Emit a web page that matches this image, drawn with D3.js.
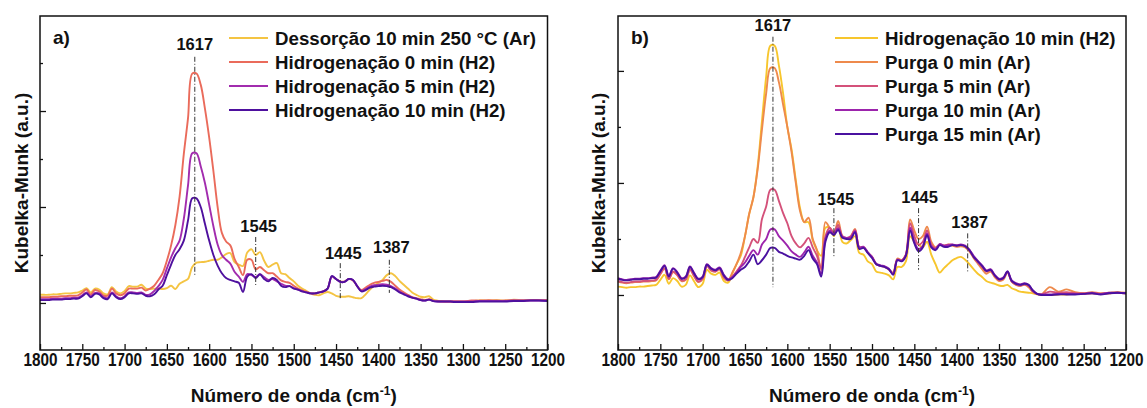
<!DOCTYPE html>
<html>
<head>
<meta charset="utf-8">
<script src="https://cdn.jsdelivr.net/npm/d3@7"></script>
<style>
body{margin:0;background:#fff}
svg text{font-family:"Liberation Sans",Arial,sans-serif;font-weight:bold;fill:#111}
</style>
</head>
<body>
<script>
// x grid (cm-1) shared by all spectra
var wavenumbers = [
 1800,1795,1790,1785,1780,1775,1770,1765,1760,1755,
 1750,1745,1740,1735,1730,1725,1720,1715,1710,1705,
 1700,1695,1690,1685,1680,1675,1670,1665,1660,1655,
 1650,1645,1640,1635,1630,1625,1620,1615,1610,1605,
 1600,1595,1590,1585,1580,1575,1570,1565,1560,1555,
 1550,1545,1540,1535,1530,1525,1520,1515,1510,1505,
 1500,1495,1490,1485,1480,1475,1470,1465,1460,1455,
 1450,1445,1440,1435,1430,1425,1420,1415,1410,1405,
 1400,1395,1390,1385,1380,1375,1370,1365,1360,1355,
 1350,1345,1340,1335,1330,1325,1320,1315,1310,1305,
 1300,1290,1280,1270,1260,1250,1240,1230,1220,1210,1200];

var xTickLabels = [1800,1750,1700,1650,1600,1550,1500,1450,1400,1350,1300,1250,1200];
var xMinorTicks = [1775,1725,1675,1625,1575,1525,1475,1425,1375,1325,1275,1225];

// panel a
var labelsA = ["Dessorção 10 min 250 °C (Ar)","Hidrogenação 0 min (H2)","Hidrogenação 5 min (H2)","Hidrogenação 10 min (H2)"];
var desorb250 = [
 0.17,0.17,0.17,0.18,0.18,0.19,0.20,0.20,0.21,0.22,
 0.26,0.31,0.22,0.30,0.28,0.20,0.18,0.33,0.24,0.20,
 0.25,0.35,0.34,0.34,0.38,0.30,0.29,0.30,0.30,0.29,
 0.31,0.36,0.29,0.40,0.45,0.50,0.75,0.84,0.85,0.86,
 0.88,0.90,0.90,0.95,1.02,1.04,0.85,0.80,0.77,1.05,
 1.12,1.00,1.06,0.88,0.75,0.80,0.83,0.62,0.60,0.52,
 0.45,0.36,0.30,0.25,0.20,0.17,0.16,0.20,0.23,0.20,
 0.15,0.13,0.13,0.14,0.12,0.10,0.10,0.18,0.28,0.36,
 0.42,0.48,0.58,0.62,0.56,0.46,0.38,0.30,0.22,0.17,
 0.13,0.12,0.14,0.07,0.05,0.04,0.03,0.03,0.03,0.03,
 0.03,0.04,0.05,0.05,0.06,0.05,0.07,0.06,0.06,0.06,0.06];
var hydro0 = [
 0.12,0.12,0.12,0.13,0.13,0.14,0.14,0.15,0.15,0.16,
 0.22,0.28,0.18,0.27,0.24,0.16,0.15,0.30,0.20,0.16,
 0.20,0.30,0.30,0.30,0.32,0.26,0.30,0.36,0.48,0.62,
 0.88,1.20,1.62,2.21,3.10,3.85,4.78,4.78,4.55,4.05,
 3.45,2.75,2.00,1.46,1.28,1.20,0.92,0.75,0.58,0.90,
 0.90,0.70,0.75,0.68,0.62,0.62,0.55,0.47,0.44,0.42,
 0.36,0.30,0.26,0.23,0.20,0.20,0.22,0.24,0.30,0.55,
 0.50,0.45,0.45,0.50,0.47,0.35,0.27,0.32,0.38,0.42,
 0.44,0.46,0.48,0.44,0.36,0.28,0.22,0.17,0.12,0.10,
 0.08,0.06,0.08,0.05,0.04,0.03,0.03,0.03,0.03,0.03,
 0.03,0.05,0.05,0.06,0.05,0.05,0.06,0.05,0.06,0.06,0.06];
var hydro5 = [
 0.08,0.08,0.08,0.09,0.09,0.09,0.10,0.10,0.11,0.11,
 0.16,0.22,0.14,0.21,0.20,0.12,0.10,0.22,0.14,0.10,
 0.14,0.22,0.22,0.21,0.22,0.17,0.18,0.25,0.35,0.48,
 0.72,0.95,1.14,1.30,1.75,2.45,3.12,3.12,2.85,2.50,
 2.05,1.60,1.22,1.00,0.90,0.82,0.65,0.55,0.44,0.60,
 0.58,0.54,0.60,0.54,0.48,0.50,0.45,0.40,0.36,0.35,
 0.31,0.28,0.24,0.22,0.20,0.20,0.22,0.24,0.30,0.55,
 0.50,0.44,0.44,0.50,0.48,0.35,0.25,0.29,0.34,0.37,
 0.38,0.39,0.38,0.35,0.30,0.24,0.19,0.15,0.11,0.09,
 0.06,0.05,0.07,0.04,0.03,0.03,0.03,0.03,0.03,0.03,
 0.03,0.03,0.04,0.04,0.04,0.04,0.05,0.05,0.05,0.05,0.05];
var hydro10 = [
 0.06,0.06,0.06,0.07,0.07,0.07,0.08,0.08,0.09,0.09,
 0.14,0.20,0.12,0.19,0.18,0.10,0.08,0.20,0.12,0.08,
 0.12,0.20,0.20,0.19,0.20,0.15,0.14,0.18,0.28,0.36,
 0.58,0.80,1.00,1.12,1.30,1.72,2.18,2.18,2.00,1.65,
 1.30,1.00,0.78,0.62,0.52,0.48,0.45,0.42,0.23,0.55,
 0.60,0.52,0.60,0.50,0.45,0.52,0.48,0.36,0.33,0.35,
 0.30,0.28,0.24,0.22,0.20,0.20,0.22,0.24,0.30,0.56,
 0.50,0.44,0.44,0.50,0.48,0.35,0.24,0.27,0.32,0.34,
 0.35,0.36,0.35,0.33,0.28,0.22,0.18,0.14,0.11,0.09,
 0.06,0.05,0.07,0.04,0.03,0.03,0.03,0.03,0.02,0.02,
 0.02,0.02,0.03,0.03,0.03,0.03,0.04,0.04,0.05,0.05,0.04];

// panel b
var labelsB = ["Hidrogenação 10 min (H2)","Purga 0 min (Ar)","Purga 5 min (Ar)","Purga 10 min (Ar)","Purga 15 min (Ar)"];
var hydro10b = [
 0.15,0.14,0.13,0.14,0.14,0.15,0.15,0.16,0.17,0.18,
 0.27,0.36,0.20,0.30,0.25,0.15,0.18,0.35,0.24,0.14,
 0.20,0.45,0.38,0.36,0.40,0.25,0.22,0.38,0.55,0.70,
 1.05,1.45,1.75,2.30,3.10,3.90,4.45,4.45,4.10,3.60,
 3.00,2.60,2.05,1.55,1.30,1.30,0.98,0.80,0.70,1.20,
 1.20,1.05,1.25,0.95,0.92,0.98,1.05,0.75,0.72,0.60,
 0.55,0.42,0.40,0.38,0.35,0.28,0.50,0.50,0.60,1.05,
 0.95,0.90,0.85,0.95,0.72,0.55,0.40,0.48,0.55,0.62,
 0.66,0.68,0.63,0.55,0.46,0.38,0.32,0.25,0.22,0.20,
 0.17,0.16,0.18,0.12,0.09,0.06,0.05,0.04,0.03,0.01,
 0.00,0.00,0.01,0.01,0.02,0.02,0.03,0.02,0.03,0.04,0.03];
var purge0 = [
 0.24,0.22,0.21,0.22,0.23,0.23,0.24,0.24,0.25,0.26,
 0.37,0.47,0.28,0.41,0.35,0.25,0.27,0.45,0.33,0.23,
 0.28,0.52,0.44,0.42,0.46,0.30,0.26,0.40,0.55,0.75,
 1.05,1.45,1.75,2.25,2.95,3.60,4.05,4.05,3.80,3.40,
 3.00,2.55,2.00,1.50,1.30,1.38,1.00,0.80,0.45,1.30,
 1.20,1.10,1.32,1.05,1.00,1.05,1.18,0.85,0.85,0.75,
 0.68,0.55,0.52,0.50,0.45,0.40,0.65,0.62,0.72,1.35,
 1.15,1.00,1.05,1.22,0.95,0.85,0.90,0.88,0.90,0.88,
 0.86,0.87,0.85,0.78,0.66,0.56,0.46,0.38,0.42,0.32,
 0.25,0.27,0.40,0.24,0.18,0.16,0.18,0.14,0.05,0.02,
 0.01,0.14,0.06,0.10,0.05,0.03,0.05,0.03,0.04,0.05,0.04];
var purge5 = [
 0.25,0.23,0.22,0.23,0.24,0.24,0.25,0.25,0.26,0.27,
 0.38,0.48,0.29,0.42,0.36,0.26,0.28,0.46,0.34,0.24,
 0.29,0.52,0.44,0.42,0.46,0.32,0.26,0.32,0.42,0.52,
 0.68,0.85,1.00,0.93,1.35,1.58,1.88,1.88,1.68,1.46,
 1.28,1.05,0.92,0.85,0.92,1.02,0.85,0.70,0.48,1.05,
 1.20,1.12,1.25,1.05,1.02,1.05,1.16,0.85,0.86,0.76,
 0.68,0.55,0.52,0.50,0.46,0.38,0.63,0.62,0.72,1.28,
 1.05,0.90,0.95,1.15,0.90,0.83,0.90,0.88,0.90,0.90,
 0.88,0.89,0.87,0.80,0.68,0.58,0.50,0.42,0.44,0.34,
 0.27,0.29,0.41,0.24,0.19,0.17,0.19,0.16,0.07,0.02,
 0.01,0.06,0.04,0.05,0.03,0.03,0.04,0.02,0.03,0.04,0.03];
var purge10 = [
 0.30,0.28,0.27,0.28,0.29,0.29,0.30,0.30,0.31,0.32,
 0.43,0.53,0.34,0.48,0.41,0.30,0.33,0.51,0.39,0.29,
 0.33,0.55,0.48,0.45,0.49,0.36,0.28,0.32,0.40,0.50,
 0.58,0.70,0.80,0.72,0.90,1.00,1.17,1.17,1.05,0.97,
 0.88,0.78,0.72,0.68,0.76,0.86,0.70,0.58,0.38,1.00,
 1.15,1.09,1.19,1.04,1.02,1.03,1.14,0.85,0.86,0.76,
 0.68,0.56,0.53,0.51,0.47,0.37,0.63,0.61,0.71,1.20,
 0.96,0.82,0.88,1.10,0.87,0.82,0.91,0.88,0.89,0.90,
 0.89,0.90,0.88,0.81,0.70,0.61,0.53,0.44,0.46,0.36,
 0.29,0.31,0.42,0.26,0.21,0.19,0.21,0.18,0.08,0.02,
 0.01,0.01,0.02,0.02,0.02,0.02,0.03,0.02,0.04,0.04,0.03];
var purge15 = [
 0.29,0.27,0.26,0.27,0.28,0.28,0.29,0.29,0.30,0.31,
 0.42,0.52,0.33,0.47,0.40,0.29,0.32,0.50,0.38,0.28,
 0.32,0.54,0.47,0.44,0.48,0.35,0.27,0.30,0.38,0.45,
 0.50,0.60,0.72,0.55,0.62,0.72,0.84,0.84,0.77,0.74,
 0.70,0.67,0.65,0.63,0.70,0.80,0.65,0.55,0.33,0.95,
 1.12,1.07,1.16,1.02,1.00,1.00,1.12,0.82,0.84,0.75,
 0.66,0.55,0.52,0.50,0.46,0.36,0.62,0.60,0.70,1.15,
 0.92,0.78,0.85,1.07,0.85,0.80,0.89,0.86,0.86,0.89,
 0.88,0.89,0.87,0.80,0.68,0.60,0.52,0.43,0.45,0.35,
 0.28,0.30,0.42,0.25,0.20,0.18,0.20,0.18,0.08,0.02,
 0.00,0.00,0.01,0.01,0.01,0.02,0.03,0.01,0.03,0.04,0.03];

var peakLabels = [1617,1545,1445,1387];

var svg = d3.select("body").append("svg").attr("width",1147).attr("height",408);

function drawPanel(p) {
  var x = d3.scaleLinear().domain([1800,1200]).range([p.x0,p.x1]);
  var y = d3.scaleLinear().domain(p.yDomain).range([350,16]);
  var g = svg.append("g");

  // curves
  var line = d3.line()
    .x(function(d){return x(d[0]);})
    .y(function(d){return y(d[1]);})
    .curve(d3.curveCatmullRom.alpha(0.5));
  p.series.forEach(function(s,i){
    g.append("path")
      .datum(wavenumbers.map(function(w,j){return [w,s[j]];}))
      .attr("fill","none")
      .attr("stroke",p.colors[i])
      .attr("stroke-width",1.9)
      .attr("stroke-linejoin","round")
      .attr("d",line);
  });

  // peak markers
  peakLabels.forEach(function(pk,i){
    var m = p.marks[i];
    g.append("line")
      .attr("x1",x(pk)).attr("x2",x(pk))
      .attr("y1",y(m[0])).attr("y2",y(m[1]))
      .attr("stroke","#333").attr("stroke-width",1)
      .attr("stroke-dasharray","5,2,1,2");
    g.append("text")
      .attr("x",x(pk)+m[3]).attr("y",y(m[2]))
      .attr("text-anchor","middle")
      .style("font-size","16.5px")
      .text(pk);
  });

  // axes
  var xa = g.append("g").attr("transform","translate(0,350)")
    .call(d3.axisBottom(x).tickValues(xTickLabels).tickSize(-6).tickPadding(3)
      .tickFormat(d3.format("d")));
  xa.selectAll("text").style("font-size","18px").attr("fill","#111")
    .attr("transform","scale(0.85,1)");
  g.append("g").attr("transform","translate(0,350)")
    .call(d3.axisBottom(x).tickValues(xMinorTicks).tickSize(-3).tickFormat(""));
  g.append("g").attr("transform","translate("+p.x0+",0)")
    .call(d3.axisLeft(y).tickValues(p.yMajor).tickSize(-6).tickFormat(""));
  g.append("g").attr("transform","translate("+p.x0+",0)")
    .call(d3.axisLeft(y).tickValues(p.yMinor).tickSize(-3).tickFormat(""));
  g.selectAll(".domain").remove();
  g.selectAll(".tick line").attr("stroke","#111").attr("stroke-width",1.3);

  g.append("rect")
    .attr("x",p.x0).attr("y",16)
    .attr("width",p.x1-p.x0).attr("height",334)
    .attr("fill","none").attr("stroke","#111").attr("stroke-width",1.5);

  // titles
  g.append("text").attr("x",p.x0+13).attr("y",44)
    .style("font-size","19px").text(p.tag);

  var xt = g.append("text")
    .attr("x",(p.x0+p.x1)/2).attr("y",402)
    .attr("text-anchor","middle").style("font-size","19px");
  xt.append("tspan").text("Número de onda (cm");
  xt.append("tspan").attr("dy",-7).style("font-size","12px").text("-1");
  xt.append("tspan").attr("dy",7).text(")");

  g.append("text")
    .attr("transform","translate("+p.yTitleX+",183) rotate(-90)")
    .attr("text-anchor","middle").attr("dy","0.35em")
    .style("font-size","19px")
    .text("Kubelka-Munk (a.u.)");

  // legend
  var lg = g.append("g");
  p.labels.forEach(function(l,i){
    var ly = 38 + i*24;
    lg.append("line")
      .attr("x1",p.legendX).attr("x2",p.legendX+p.legendLen)
      .attr("y1",ly).attr("y2",ly)
      .attr("stroke",p.colors[i]).attr("stroke-width",2);
    lg.append("text")
      .attr("x",p.legendX+p.legendLen+7).attr("y",ly)
      .attr("dy","0.36em").style("font-size","18.7px")
      .text(l);
  });
}

drawPanel({
  x0:40, x1:547.5, yDomain:[-0.98,5.98],
  yMajor:[0,2,4], yMinor:[1,3,5],
  series:[desorb250,hydro0,hydro5,hydro10],
  colors:["#f4c443","#ea6b5b","#a22cae","#4e109e"],
  labels:labelsA, tag:"a)",
  legendX:229, legendLen:39, yTitleX:21,
  // [line top, line bottom, label baseline, label dx] in data units
  marks:[[5.13,0.58,5.27,0],[1.375,0.375,1.47,3],[0.83,0.1,0.92,3],[0.9,0.21,1.04,2]]
});

drawPanel({
  x0:618, x1:1126, yDomain:[-0.982,4.98],
  yMajor:[0,2,4], yMinor:[1,3],
  series:[hydro10b,purge0,purge5,purge10,purge15],
  colors:["#f7c62d","#ee8a4c","#d4517a","#9c24ac","#4a11a0"],
  labels:labelsB, tag:"b)",
  legendX:835, legendLen:43, yTitleX:598,
  marks:[[4.61,0.14,4.72,0],[1.55,0.68,1.6,2],[1.55,0.45,1.65,1],[1.1,0.39,1.2,2]]
});
</script>
</body>
</html>
